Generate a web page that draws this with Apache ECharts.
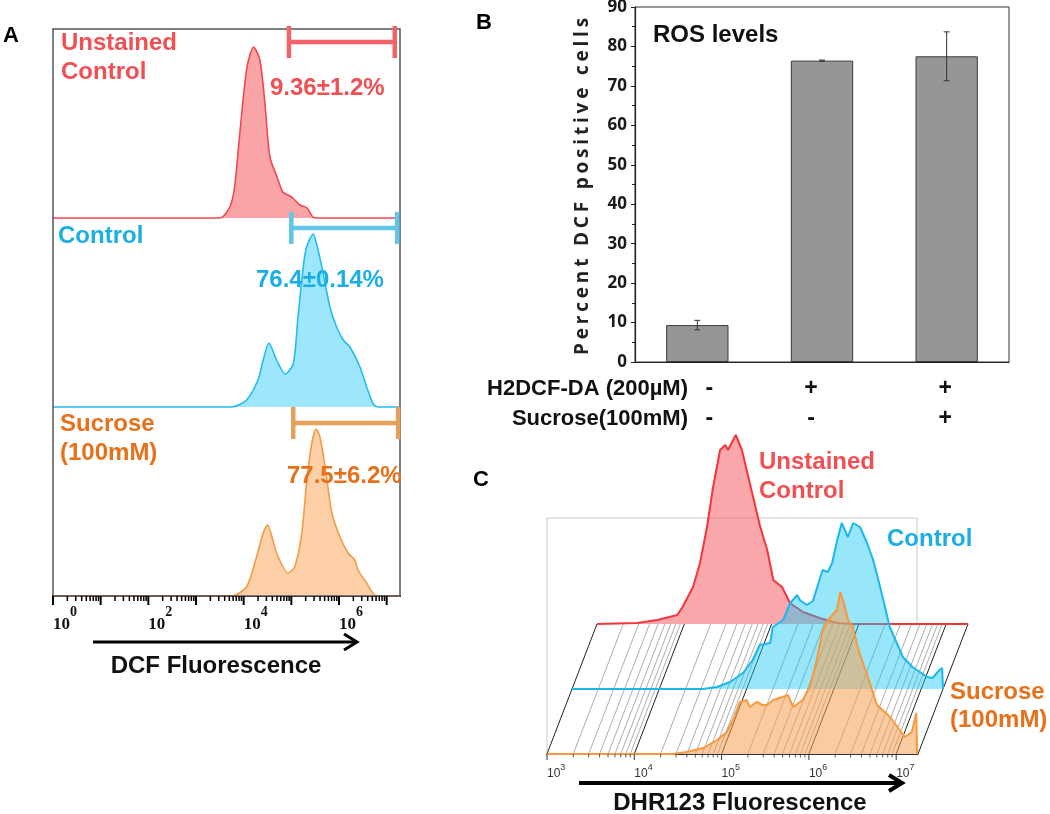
<!DOCTYPE html>
<html><head><meta charset="utf-8">
<script src="https://cdn.jsdelivr.net/npm/echarts@6.0.0/dist/echarts.min.js"></script>
<style>html,body{margin:0;padding:0;background:#fff}#c{width:1050px;height:814px}</style>
</head><body><div id="c"></div>
<script>
// ===== Panel A : DCF histograms (x = log10 fluorescence, y = relative count) =====
const aUnstX = [0, 3.50, 3.71, 3.81, 3.92, 4.07, 4.21, 4.34, 4.44, 4.55, 4.70, 4.82, 4.93, 5.03, 5.18, 5.33, 5.45, 5.54, 7.28];
const aUnstY = [0, 0, 11, 31, 85, 151, 171, 158, 118, 61, 41, 26, 23, 20, 13, 10, 1, 0, 0];
const aCtrlX = [0, 3.75, 4.06, 4.30, 4.41, 4.53, 4.69, 4.87, 5.04, 5.14, 5.25, 5.32, 5.46, 5.53, 5.64, 5.81, 5.95, 6.09, 6.23, 6.44, 6.58, 6.72, 6.82, 7.28];
const aCtrlY = [0, 0, 7, 27, 47, 64, 47, 33, 43, 90, 140, 160, 173, 163, 140, 100, 80, 67, 60, 40, 20, 3, 0, 0];
const aSucX = [0, 3.75, 4.06, 4.27, 4.41, 4.50, 4.69, 4.93, 5.07, 5.22, 5.32, 5.43, 5.52, 5.60, 5.71, 5.85, 6.02, 6.19, 6.33, 6.40, 6.58, 6.79, 7.28];
const aSucY = [0, 0, 9, 39, 63, 71, 43, 23, 29, 63, 113, 153, 167, 159, 129, 83, 59, 43, 36, 26, 13, 0, 0];
const gateLo = [4.95, 5.00, 5.04];
const gateHi = [7.17, 7.22, 7.24];
const gateLevel = [176, 179, 173];
const aTickDecades = [0, 1, 2, 3, 4, 5, 6, 7];

// ===== Panel B : bar chart =====
const bCategories = ['Unstained', 'Control', 'Sucrose'];
const h2dcfSigns = ['-', '+', '+'];
const sucroseSigns = ['-', '-', '+'];
const pctMean = [9.36, 76.4, 77.5];
const pctErr = [1.2, 0.14, 6.2];

// ===== Panel C : DHR123 histograms =====
const cUnstX = [3.00, 3.46, 3.69, 3.92, 3.98, 4.10, 4.18, 4.26, 4.33, 4.41, 4.47, 4.50, 4.59, 4.66, 4.75, 4.87, 4.95, 5.02, 5.12, 5.21, 5.36, 5.55, 5.75, 5.93, 7.25];
const cUnstY = [0, 1, 4, 9, 17, 37, 61, 97, 137, 174, 179, 174, 189, 174, 141, 97, 74, 44, 37, 21, 12, 6, 1, 0, 0];
const cCtrlX = [3.00, 4.50, 4.66, 4.81, 4.96, 5.07, 5.15, 5.27, 5.30, 5.42, 5.50, 5.58, 5.61, 5.69, 5.76, 5.87, 5.93, 5.98, 6.03, 6.09, 6.16, 6.22, 6.30, 6.38, 6.45, 6.53, 6.64, 6.72, 6.79, 6.90, 7.07, 7.13, 7.21, 7.24, 7.25];
const cCtrlY = [0, 0, 2, 7, 16, 29, 44, 46, 62, 69, 86, 94, 89, 84, 88, 119, 117, 126, 146, 166, 152, 166, 162, 146, 129, 102, 62, 46, 32, 22, 12, 11, 19, 21, 0];
const cSucX = [3.00, 4.44, 4.60, 4.79, 4.95, 5.06, 5.13, 5.21, 5.29, 5.32, 5.40, 5.47, 5.52, 5.59, 5.70, 5.76, 5.82, 5.93, 6.01, 6.09, 6.16, 6.22, 6.32, 6.36, 6.39, 6.45, 6.50, 6.58, 6.66, 6.78, 6.93, 7.04, 7.10, 7.18, 7.23, 7.24];
const cSucY = [0, 0, 2, 6, 14, 22, 34, 52, 54, 47, 52, 49, 49, 54, 57, 59, 47, 54, 67, 94, 124, 134, 144, 162, 154, 134, 127, 101, 81, 49, 37, 24, 17, 22, 41, 0];
const cTickDecades = [3, 4, 5, 6, 7];
const cEdge = 7.25;

// ---- letter-spaced y-axis title only (canvas letterSpacing) ----
const Y_NAME = 'Percent DCF positive cells';
(function () {
  const P = CanvasRenderingContext2D.prototype, orig = P.fillText;
  P.fillText = function (t, x, y, w) {
    if ('letterSpacing' in this) this.letterSpacing = (t === Y_NAME) ? '3.8px' : '0px';
    const r = w === undefined ? orig.call(this, t, x, y) : orig.call(this, t, x, y, w);
    if ('letterSpacing' in this) this.letterSpacing = '0px';
    return r;
  };
})();

// ---- helpers ----
const zip = (xs, ys) => xs.map((x, i) => [x, ys[i]]);
function logTicks(decades, maxV) {
  const out = [];
  decades.forEach(d => {
    out.push([d, 1]);
    for (let k = 2; k <= 9; k++) { const v = d + Math.log10(k); if (v <= maxV) out.push([v, 0]); }
  });
  return out;
}
const SANS = '"Liberation Sans", Arial, sans-serif';
const SERIF = '"Liberation Serif", "Times New Roman", serif';

// ---- layout ----
const A = { left: 53, width: 347, tops: [29, 218, 407], h: 189, max: 7.28 };
const B = { left: 635, top: 7, width: 374, height: 355 };
const C = { lefts: [597, 572, 547], bases: [624, 689, 754], width: 371, h: 200, min: 3, max: 7.25, wallTop: 518 };

const RED = '#f2474d', BLUE = '#22bdf0', ORANGE = '#f59a45';
const RED_T = '#f04f53', BLUE_T = '#1aaee6', ORANGE_T = '#e7701a';

const grids = [], xAxes = [], yAxes = [];
A.tops.forEach((t, i) => {
  grids.push({ left: A.left, top: t, width: A.width, height: A.h, outerBoundsMode: 'none' });
  xAxes.push({
    gridIndex: i, type: 'value', min: 0, max: A.max, interval: 1, show: i === 2,
    axisLine: { show: true, lineStyle: { color: '#000', width: 2 } },
    axisTick: { show: false }, splitLine: { show: false },
    axisLabel: {
      show: i === 2, align: 'left', margin: 9,
      formatter: v => (Math.abs(v - Math.round(v)) < 1e-6 && Math.round(v) % 2 === 0) ? `{b|10}{s|${Math.round(v)}}` : '',
      rich: {
        b: { fontFamily: SERIF, fontWeight: 'bold', fontSize: 17, color: '#111', lineHeight: 28, verticalAlign: 'bottom' },
        s: { fontFamily: SERIF, fontWeight: 'bold', fontSize: 14, color: '#111', lineHeight: 28, verticalAlign: 'top' }
      }
    }
  });
  yAxes.push({ gridIndex: i, type: 'value', min: 0, max: A.h, show: false });
});
// B grid (index 3)
grids.push({ left: B.left, top: B.top, width: B.width, height: B.height, show: true, borderColor: '#333', borderWidth: 1, outerBoundsMode: 'none' });
const signStyle = { fontFamily: SANS, fontWeight: 'bold', fontSize: 23, lineHeight: 30, color: '#111' };
xAxes.push({
  gridIndex: 3, type: 'category', data: bCategories,
  axisLine: { lineStyle: { color: '#222', width: 1.2 } }, axisTick: { show: false },
  axisLabel: {
    margin: 12, color: '#111', fontFamily: SANS, fontWeight: 'bold', fontSize: 23, lineHeight: 30,
    formatter: (v, idx) => `{c${idx}|${h2dcfSigns[idx]}}\n{c${idx}|${sucroseSigns[idx]}}`,
    rich: {
      c0: Object.assign({ padding: [0, 0, 0, 24] }, signStyle),
      c1: Object.assign({ padding: [0, 22, 0, 0] }, signStyle),
      c2: Object.assign({ padding: [0, 3, 0, 0] }, signStyle)
    }
  }
});
yAxes.push({
  gridIndex: 3, type: 'value', min: 0, max: 90, interval: 10,
  name: Y_NAME, nameLocation: 'middle', nameGap: 43,
  nameTextStyle: { fontFamily: '"Open Sans", sans-serif', fontWeight: 'bold', fontSize: 19, color: '#222' },
  axisLine: { show: true, lineStyle: { color: '#222', width: 1.2 } },
  axisTick: { show: true, length: 4, lineStyle: { color: '#222' } },
  minorTick: { show: true, splitNumber: 2, length: 3, lineStyle: { color: '#222' } },
  splitLine: { show: false },
  axisLabel: { margin: 8, color: '#1a1a1a', fontFamily: '"Open Sans", sans-serif', fontWeight: 'bold', fontSize: 17 }
});
// C grids (4 red back, 5 blue, 6 orange front)
C.lefts.forEach((l, i) => {
  const gi = 4 + i;
  grids.push({ left: l, top: C.bases[i] - C.h, width: C.width, height: C.h, outerBoundsMode: 'none' });
  xAxes.push({
    gridIndex: gi, type: 'value', min: C.min, max: C.max, interval: 1, show: i === 2,
    axisLine: { show: true, lineStyle: { color: '#333', width: 1 } },
    axisTick: { show: false }, splitLine: { show: false },
    axisLabel: {
      show: i === 2, align: 'left', margin: 9,
      formatter: v => (Math.abs(v - Math.round(v)) < 1e-6) ? `{b|10}{s|${Math.round(v)}}` : '',
      rich: {
        b: { fontFamily: SANS, fontSize: 12, color: '#333', lineHeight: 17, verticalAlign: 'bottom' },
        s: { fontFamily: SANS, fontSize: 9, color: '#333', lineHeight: 17, verticalAlign: 'top' }
      }
    }
  });
  yAxes.push({ gridIndex: gi, type: 'value', min: 0, max: C.h, show: false });
});

function histo(name, xs, ys, gi, line, fill, z, smooth) {
  return {
    name, type: 'line', xAxisIndex: gi, yAxisIndex: gi, data: zip(xs, ys), symbol: 'none', z,
    smooth: smooth, clip: false,
    lineStyle: { color: line, width: 1.8 }, areaStyle: { color: fill, opacity: 1 }
  };
}
function gateSeries(i, color) {
  return {
    type: 'custom', xAxisIndex: i, yAxisIndex: i, z: 8, clip: false,
    data: [[gateLo[i], gateHi[i], gateLevel[i]]], encode: { x: [0, 1], y: 2 },
    renderItem(params, api) {
      const a = api.coord([api.value(0), api.value(2)]);
      const b = api.coord([api.value(1), api.value(2)]);
      const cap = 16, st = { stroke: color, lineWidth: 4.5 };
      return { type: 'group', children: [
        { type: 'line', shape: { x1: a[0], y1: a[1], x2: b[0], y2: b[1] }, style: st },
        { type: 'line', shape: { x1: a[0], y1: a[1] - cap, x2: a[0], y2: a[1] + cap }, style: st },
        { type: 'line', shape: { x1: b[0], y1: b[1] - cap, x2: b[0], y2: b[1] + cap }, style: st }
      ] };
    }
  };
}
function tickSeries(gi, ticks, majLen, minLen, majW, minW, color) {
  return {
    type: 'custom', xAxisIndex: gi, yAxisIndex: gi, z: 9, clip: false,
    data: ticks, encode: { x: 0, y: 1 },
    renderItem(params, api) {
      const p = api.coord([api.value(0), 0]);
      const maj = api.value(1) === 1;
      return { type: 'line', shape: { x1: p[0], y1: p[1], x2: p[0], y2: p[1] + (maj ? majLen : minLen) },
        style: { stroke: color, lineWidth: maj ? majW : minW } };
    }
  };
}
const aTicks = logTicks(aTickDecades, A.max);
const cTicks = logTicks(cTickDecades, C.max);
const cFloorLines = cTicks.concat([[cEdge, 1]]);
const dxBack = C.lefts[0] - C.lefts[2], dyBack = C.bases[0] - C.bases[2];

const series = [
  histo('Unstained', aUnstX, aUnstY, 0, RED, '#f9a5a8', 3, 0.25),
  histo('Control', aCtrlX, aCtrlY, 1, BLUE, '#9ee6fb', 3, 0.25),
  histo('Sucrose', aSucX, aSucY, 2, ORANGE, '#fdd0a7', 3, 0.25),
  gateSeries(0, '#f26266'), gateSeries(1, '#60c5e6'), gateSeries(2, '#e5a05a'),
  tickSeries(2, aTicks, 9, 5, 2, 1.5, '#000'),
  {
    type: 'bar', xAxisIndex: 3, yAxisIndex: 3, data: pctMean, barWidth: '50%',
    itemStyle: { color: '#969696', borderColor: '#3a3a3a', borderWidth: 1 }, z: 2
  },
  {
    type: 'custom', xAxisIndex: 3, yAxisIndex: 3, z: 5,
    data: pctMean.map((m, i) => [i, m - pctErr[i], m + pctErr[i]]), encode: { x: 0, y: [1, 2] },
    renderItem(params, api) {
      const lo = api.coord([api.value(0), api.value(1)]);
      const hi = api.coord([api.value(0), api.value(2)]);
      const w = 3, st = { stroke: '#333', lineWidth: 1 };
      return { type: 'group', children: [
        { type: 'line', shape: { x1: lo[0], y1: lo[1], x2: hi[0], y2: hi[1] }, style: st },
        { type: 'line', shape: { x1: lo[0] - w, y1: lo[1], x2: lo[0] + w, y2: lo[1] }, style: st },
        { type: 'line', shape: { x1: hi[0] - w, y1: hi[1], x2: hi[0] + w, y2: hi[1] }, style: st }
      ] };
    }
  },
  {
    type: 'custom', xAxisIndex: 6, yAxisIndex: 6, z: 1, clip: false,
    data: cFloorLines, encode: { x: 0, y: 1 },
    renderItem(params, api) {
      const p = api.coord([api.value(0), 0]);
      const maj = api.value(1) === 1;
      return { type: 'line', shape: { x1: p[0], y1: p[1], x2: p[0] + dxBack, y2: p[1] + dyBack },
        style: { stroke: maj ? '#222' : '#8a8a8a', lineWidth: maj ? 1 : 0.7 } };
    }
  },
  histo('Unstained C', cUnstX, cUnstY, 4, '#f2363c', 'rgba(244,80,86,0.5)', 2, false),
  histo('Control C', cCtrlX, cCtrlY, 5, '#1ab8ee', 'rgba(25,200,245,0.45)', 3, false),
  histo('Sucrose C', cSucX, cSucY, 6, '#f7993c', 'rgba(248,160,80,0.55)', 4, false),
  tickSeries(6, cTicks, 6, 3.5, 1, 0.8, '#333')
];
series.filter(s => s.type === 'line').forEach(s => { s.lineStyle.width = s.xAxisIndex >= 4 ? 2 : 1.6; });

function txt(text, x, y, color, size, opts) {
  return Object.assign({ type: 'text', z: 100, style: Object.assign({
    text, x, y, fill: color, font: `bold ${size}px ${SANS}`, align: 'left', verticalAlign: 'middle'
  }, opts || {}) });
}
function arrow(x1, x2, y, w, hw, hh) {
  return [
    { type: 'line', z: 100, shape: { x1, y1: y, x2: x2 - 1, y2: y }, style: { stroke: '#000', lineWidth: w } },
    { type: 'polyline', z: 100, shape: { points: [[x2 - hw, y - hh], [x2, y], [x2 - hw, y + hh]] }, style: { stroke: '#000', lineWidth: w, fill: null } }
  ];
}
const pctText = i => `${pctMean[i]}±${pctErr[i]}%`;
const aBottom = A.tops[2] + A.h;
const cRight = C.lefts[2] + C.width;

const graphic = [
  txt('A', 3, 36, '#000', 22),
  { type: 'rect', z: 6, shape: { x: A.left, y: A.tops[0], width: A.width, height: aBottom - A.tops[0] }, style: { stroke: '#555', lineWidth: 1.5, fill: null } },
  txt('Unstained', 61, 43, RED_T, 24), txt('Control', 61, 72, RED_T, 24),
  txt('Control', 58, 236, BLUE_T, 24),
  txt('Sucrose', 60, 424, ORANGE_T, 24), txt('(100mM)', 60, 453, ORANGE_T, 24),
  txt(pctText(0), 270, 88, RED_T, 24), txt(pctText(1), 256, 280, BLUE_T, 24), txt(pctText(2), 287, 476, ORANGE_T, 24),
  ...arrow(93, 357, 642, 3, 13, 8),
  txt('DCF Fluorescence', 216, 666, '#111', 24, { align: 'center' }),
  txt('B', 476, 23, '#000', 22),
  txt('ROS levels', 653, 35, '#111', 24),
  txt('H2DCF-DA (200µM)', 688, 389, '#111', 22, { align: 'right' }),
  txt('Sucrose(100mM)', 688, 419, '#111', 22, { align: 'right' }),
  txt('C', 473, 480, '#000', 22),
  { type: 'polyline', z: 0, shape: { points: [[C.lefts[2], C.bases[2]], [C.lefts[2], C.wallTop], [cRight - 1, C.wallTop], [cRight - 1, C.bases[0]]] }, style: { stroke: '#c8c8c8', lineWidth: 1, fill: null } },
  txt('Unstained', 759, 462, RED_T, 24), txt('Control', 759, 491, RED_T, 24),
  txt('Control', 887, 539, BLUE_T, 24),
  txt('Sucrose', 950, 692, ORANGE_T, 24), txt('(100mM)', 950, 720, ORANGE_T, 24),
  ...arrow(579, 902, 783, 4, 13, 8),
  txt('DHR123 Fluorescence', 740, 803, '#111', 24, { align: 'center' })
];

const chart = echarts.init(document.getElementById('c'), null, { renderer: 'canvas' });
chart.setOption({
  animation: false, backgroundColor: '#fff',
  grid: grids, xAxis: xAxes, yAxis: yAxes, series, graphic
});
</script></body></html>
